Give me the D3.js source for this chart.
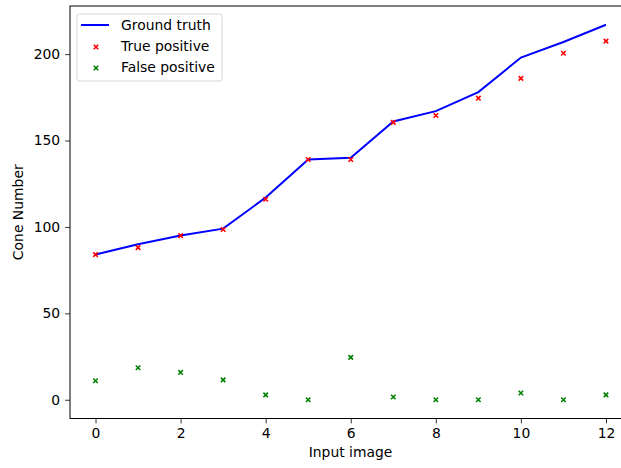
<!DOCTYPE html>
<html>
<head>
<meta charset="utf-8">
<script src="https://cdn.jsdelivr.net/npm/d3@7"></script>
<style>
  body { margin: 0; background: #fff; }
  svg { display: block; font-family: "DejaVu Sans", sans-serif; }
</style>
</head>
<body>
<div id="chart"></div>
<script>
// data
const images = [0, 1, 2, 3, 4, 5, 6, 7, 8, 9, 10, 11, 12]
const groundTruth = [84, 90, 95, 99, 117, 139, 140, 161, 167, 178, 198, 207, 217]
const truePositive = [84, 88, 95, 98.5, 116, 139, 139, 160.5, 164.5, 174.5, 186, 200.5, 207.5]
const falsePositive = [11, 18.5, 15.8, 11.5, 2.8, 0, 24.5, 1.6, 0, 0, 3.9, 0, 2.8]
const xTicks = [0, 2, 4, 6, 8, 10, 12]
const yTicks = [0, 50, 100, 150, 200]

const svgWidth = 621, svgHeight = 468
const margin = { left: 70, top: 6, right: -10.5, bottom: 49.5 }
const width = svgWidth - margin.left - margin.right
const height = svgHeight - margin.top - margin.bottom
const fontSize = 13.9

const svg = d3.select('#chart')
    .append('svg')
    .attr('width', svgWidth)
    .attr('height', svgHeight)

const g = svg.append('g')
    .attr('transform', `translate(${margin.left},${margin.top})`)

// scales (matplotlib style 5% padding)
const xScale = d3.scaleLinear()
    .domain([-0.6, 12.6])
    .range([0, width])

const yScale = d3.scaleLinear()
    .domain([-10.85, 227.85])
    .range([height, 0])

// axes
const xAxis = g.append('g')
    .attr('transform', `translate(0,${height})`)
    .call(d3.axisBottom(xScale).tickValues(xTicks).tickSize(4.9).tickPadding(4.9).tickSizeOuter(0))

const yAxis = g.append('g')
    .call(d3.axisLeft(yScale).tickValues(yTicks).tickSize(4.9).tickPadding(4.9).tickSizeOuter(0))

;[xAxis, yAxis].forEach(a => {
    a.selectAll('text')
        .attr('font-family', '"DejaVu Sans", sans-serif')
        .attr('font-size', fontSize)
        .attr('fill', '#000')
    a.selectAll('line').attr('stroke', '#000').attr('stroke-width', 0.8)
    a.select('.domain').remove()
})

// spines
g.append('rect')
    .attr('x', 0).attr('y', 0)
    .attr('width', width).attr('height', height)
    .attr('fill', 'none')
    .attr('stroke', '#000')
    .attr('stroke-width', 1)

// ground truth line
const line = d3.line()
    .x((d, i) => xScale(images[i]))
    .y(d => yScale(d))

g.append('path')
    .datum(groundTruth)
    .attr('d', line)
    .attr('fill', 'none')
    .attr('stroke', '#0000ff')
    .attr('stroke-width', 2)

// x markers
const cross = d3.symbol().type(d3.symbolTimes).size(15)

function drawMarkers(values, color) {
    g.selectAll(null)
        .data(values)
        .join('path')
        .attr('d', cross)
        .attr('transform', (d, i) => `translate(${xScale(images[i])},${yScale(d)})`)
        .attr('fill', color)
        .attr('stroke', color)
        .attr('stroke-width', 1.6)
}
drawMarkers(truePositive, '#ff0000')
drawMarkers(falsePositive, '#008000')

// axis labels
svg.append('text')
    .attr('x', 350.5)
    .attr('y', 457)
    .attr('text-anchor', 'middle')
    .attr('font-size', fontSize)
    .text('Input image')

svg.append('text')
    .attr('transform', `translate(23,${margin.top + height / 2}) rotate(-90)`)
    .attr('text-anchor', 'middle')
    .attr('font-size', fontSize)
    .text('Cone Number')

// legend
const legend = svg.append('g')
    .attr('transform', 'translate(77,14)')

legend.append('rect')
    .attr('width', 145).attr('height', 67)
    .attr('rx', 2.5)
    .attr('fill', '#fff')
    .attr('fill-opacity', 0.8)
    .attr('stroke', '#d6d6d6')
    .attr('stroke-width', 1)

const entries = [
    { label: 'Ground truth', type: 'line', color: '#0000ff' },
    { label: 'True positive', type: 'marker', color: '#ff0000' },
    { label: 'False positive', type: 'marker', color: '#008000' }
]

entries.forEach((e, i) => {
    const y = 11 + i * 21
    if (e.type === 'line') {
        legend.append('line')
            .attr('x1', 4).attr('x2', 32)
            .attr('y1', y).attr('y2', y)
            .attr('stroke', e.color)
            .attr('stroke-width', 2)
    } else {
        legend.append('path')
            .attr('d', cross)
            .attr('transform', `translate(19,${y + 1})`)
            .attr('fill', e.color)
            .attr('stroke', e.color)
            .attr('stroke-width', 1.6)
    }
    legend.append('text')
        .attr('x', 44)
        .attr('y', y + 5)
        .attr('font-size', fontSize)
        .text(e.label)
})
</script>
</body>
</html>
